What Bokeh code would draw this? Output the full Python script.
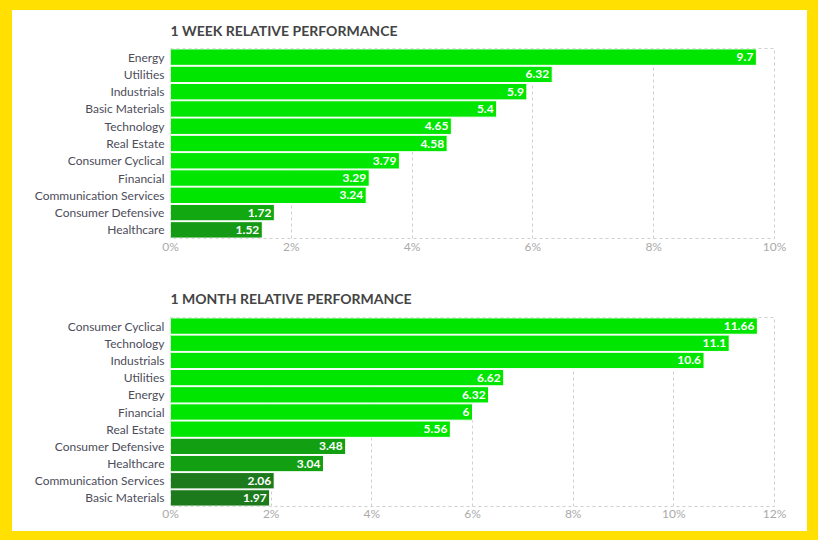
from bokeh.plotting import figure
from bokeh.models import ColumnDataSource, FactorRange, Range1d, FixedTicker, PrintfTickFormatter, Spacer
from bokeh.layouts import column, row
from bokeh.core.properties import value
from bokeh.embed import file_html
from bokeh.resources import INLINE

week_sectors = ["Energy", "Utilities", "Industrials", "Basic Materials", "Technology", "Real Estate",
                "Consumer Cyclical", "Financial", "Communication Services", "Consumer Defensive", "Healthcare"]
week_values = [9.7, 6.32, 5.9, 5.4, 4.65, 4.58, 3.79, 3.29, 3.24, 1.72, 1.52]
week_colors = ["#00e600"] * 9 + ["#11a811", "#159a15"]

month_sectors = ["Consumer Cyclical", "Technology", "Industrials", "Utilities", "Energy", "Financial",
                 "Real Estate", "Consumer Defensive", "Healthcare", "Communication Services", "Basic Materials"]
month_values = [11.66, 11.1, 10.6, 6.62, 6.32, 6, 5.56, 3.48, 3.04, 2.06, 1.97]
month_colors = ["#00e600"] * 7 + ["#12a012", "#12a012", "#1c7a1c", "#1c7a1c"]

week_ticks = [0, 2, 4, 6, 8, 10]
month_ticks = [0, 2, 4, 6, 8, 10, 12]

FONT = "Lato"


def make_chart(title, sectors, values, colors, ticks, height, top, bottom, standoff, tick_standoff):
    src = ColumnDataSource(dict(
        y=sectors, x=values, color=colors, label=[f"{v:g}" for v in values]))
    p = figure(width=795, height=height, y_range=FactorRange(*reversed(sectors), range_padding=0),
               x_range=Range1d(ticks[0], ticks[-1]), output_backend="svg", toolbar_location=None,
               min_border_left=158, min_border_right=33, min_border_top=top, min_border_bottom=bottom)
    p.hbar(y="y", right="x", left=0, height=0.95, fill_color="color", line_color="white",
           line_width=1, source=src)
    p.text(x="x", y="y", text="label", source=src, text_align="right", text_baseline="middle",
           x_offset=-3, text_color="white", text_font=value(FONT), text_font_style="bold",
           text_font_size="12px")
    p.title.text = title
    p.title.text_font = FONT
    p.title.text_font_size = "14px"
    p.title.text_color = "#444444"
    p.title.text_font_style = "bold"
    p.title.standoff = standoff
    p.background_fill_color = "white"
    p.border_fill_color = "white"
    p.outline_line_color = "#cfcfcf"
    p.outline_line_dash = "3 3"
    p.ygrid.grid_line_color = None
    p.xgrid.grid_line_color = "#cfcfcf"
    p.xgrid.grid_line_dash = "3 3"
    p.xaxis.ticker = FixedTicker(ticks=ticks)
    p.xaxis.formatter = PrintfTickFormatter(format="%d%%")
    for ax in (p.xaxis[0], p.yaxis[0]):
        ax.axis_line_color = None
        ax.major_tick_line_color = None
        ax.minor_tick_line_color = None
        ax.major_tick_out = 0
        ax.minor_tick_out = 0
        ax.major_label_text_font = FONT
    p.xaxis.major_label_text_color = "#aaaaaa"
    p.xaxis.major_label_text_font_size = "12px"
    p.xaxis.major_label_standoff = tick_standoff
    p.yaxis.major_label_text_color = "#4d4d5a"
    p.yaxis.major_label_text_font_size = "12px"
    p.yaxis.major_label_standoff = 6
    return p


p1 = make_chart("1 WEEK RELATIVE PERFORMANCE", week_sectors, week_values, week_colors, week_ticks,
                254, 38, 26, 19, 0)
p2 = make_chart("1 MONTH RELATIVE PERFORMANCE", month_sectors, month_values, month_colors, month_ticks,
                267, 53, 25, 22, -1)

layout = column(
    Spacer(width=818, height=10),
    row(Spacer(width=12, height=521),
        column(p1, p2, spacing=0, styles={"background-color": "white"}),
        Spacer(width=11, height=521), spacing=0),
    Spacer(width=818, height=9),
    spacing=0,
    styles={"background-color": "#FFE000"},
)

open("out.html", "w").write(file_html(layout, INLINE))
